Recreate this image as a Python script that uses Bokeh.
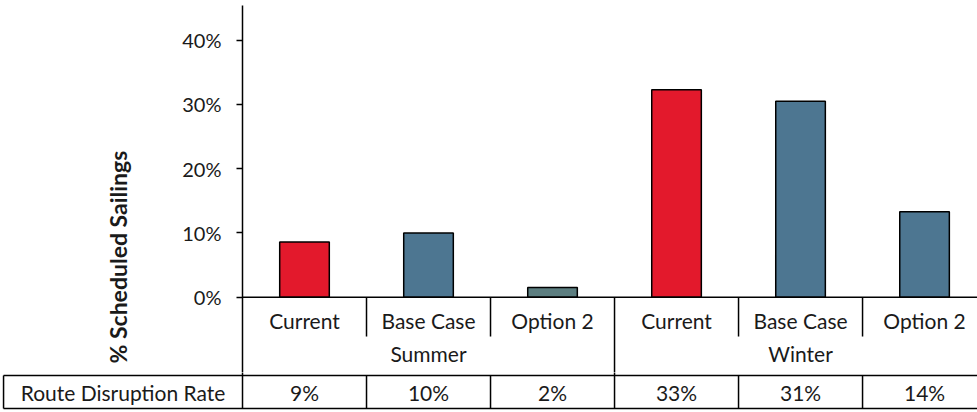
import math
from bokeh.plotting import figure
from bokeh.layouts import column, row
from bokeh.models import Range1d, FixedTicker, NumeralTickFormatter, ColumnDataSource
from bokeh.core.properties import value
from bokeh.embed import file_html
from bokeh.resources import INLINE

# ---- data ----
categories = ["Current", "Base Case", "Option 2", "Current", "Base Case", "Option 2"]
groups = ["Summer", "Winter"]
values = [0.086, 0.100, 0.015, 0.323, 0.305, 0.133]
table_labels = ["9%", "10%", "2%", "33%", "31%", "14%"]
table_title = "Route Disruption Rate"
y_title = "% Scheduled Sailings"
y_ticks = [0, 0.1, 0.2, 0.3, 0.4]

RED = "#e3192c"
BLUE = "#4d7691"
GREY = "#5c7e80"
colors = [RED, BLUE, GREY, RED, BLUE, BLUE]

FONT = "Lato"
FS = "21px"
TXT = "#1a1a1a"
n = len(categories)
xs = [i + 0.5 for i in range(n)]

# layout positions in data units (below zero = category / table area)
Y_TOP = 0.4540      # top of frame
Y_SPLIT = -0.1172   # boundary between chart figure and table figure
Y_BOTTOM = -0.1795  # bottom of table figure
Y_CAT = -0.0355
Y_SEP = -0.0612
Y_GRP = -0.0876
Y_TTOP = -0.1219
Y_TVAL = -0.1483
Y_TBOT = -0.1732
X_LEFT = -1.9516
X_RIGHT = 5.927
X_CELL = -1.927

LEFT_W = 150

# ---- axis title panel ----
t = figure(width=LEFT_W, height=372, output_backend="svg", toolbar_location=None,
           x_range=Range1d(0, LEFT_W), y_range=Range1d(0, 372),
           min_border=0, min_border_left=0, min_border_right=0,
           min_border_top=0, min_border_bottom=0)
t.outline_line_color = None
t.grid.visible = False
t.axis.visible = False
t.text(x=[117], y=[117], text=[y_title], angle=math.pi / 2, text_align="center",
       text_baseline="middle", text_font=value(FONT), text_font_size="23px",
       text_font_style="bold", text_color=TXT)

# ---- main chart ----
p = figure(width=977 - LEFT_W, height=372, output_backend="svg", toolbar_location=None,
           x_range=Range1d(0, X_RIGHT), y_range=Range1d(Y_SPLIT, Y_TOP),
           min_border_left=242 - LEFT_W, min_border_right=0, min_border_top=5,
           min_border_bottom=0)
p.outline_line_color = None
p.grid.visible = False
p.xaxis.visible = False

ya = p.yaxis[0]
ya.ticker = FixedTicker(ticks=y_ticks)
ya.formatter = NumeralTickFormatter(format="0%")
ya.major_tick_in = 0
ya.major_tick_out = 6
ya.minor_tick_line_color = None
ya.axis_line_color = "black"
ya.axis_line_width = 1.5
ya.major_tick_line_color = "black"
ya.major_tick_line_width = 1.5
ya.major_label_text_font = FONT
ya.major_label_text_font_size = "20px"
ya.major_label_text_color = TXT
ya.major_label_standoff = 15

src = ColumnDataSource(dict(x=xs, top=values, color=colors))
p.vbar(x="x", top="top", bottom=0, width=0.4, source=src,
       fill_color="color", line_color="black", line_width=1.5)

sx0, sy0, sx1, sy1 = [0], [0], [n], [0]
for b in range(1, n + 1):
    sx0.append(b); sx1.append(b)
    sy0.append(0); sy1.append(Y_SPLIT - 0.01 if b % 3 == 0 else Y_SEP)
p.segment(sx0, sy0, sx1, sy1, line_color="black", line_width=1.5)

p.text(x=xs, y=[Y_CAT] * n, text=categories, text_align="center", text_baseline="middle",
       text_font=value(FONT), text_font_size=FS, text_color=TXT)
p.text(x=[1.5, 4.5], y=[Y_GRP] * 2, text=groups, text_align="center", text_baseline="middle",
       text_font=value(FONT), text_font_size=FS, text_color=TXT)

# ---- table row ----
b = figure(width=977, height=40, output_backend="svg", toolbar_location=None,
           x_range=Range1d(X_LEFT, X_RIGHT), y_range=Range1d(Y_BOTTOM, Y_SPLIT),
           min_border=0, min_border_left=0, min_border_right=0,
           min_border_top=0, min_border_bottom=0)
b.outline_line_color = None
b.grid.visible = False
b.axis.visible = False

tx0, ty0, tx1, ty1 = [X_CELL, X_CELL, X_CELL], [Y_TTOP, Y_TBOT, Y_TTOP], [n, n, X_CELL], [Y_TTOP, Y_TBOT, Y_TBOT]
for k in range(0, n + 1):
    tx0.append(k); tx1.append(k)
    ty0.append(Y_SPLIT + 0.01 if k % 3 == 0 else Y_TTOP); ty1.append(Y_TBOT)
b.segment(tx0, ty0, tx1, ty1, line_color="black", line_width=1.5)

b.text(x=xs, y=[Y_TVAL] * n, text=table_labels, text_align="center", text_baseline="middle",
       text_font=value(FONT), text_font_size=FS, text_color=TXT)
b.text(x=[(X_CELL + 0) / 2], y=[Y_TVAL], text=[table_title], text_align="center",
       text_baseline="middle", text_font=value(FONT), text_font_size=FS, text_color=TXT)

layout = column(row(t, p, spacing=0), b, spacing=0)
open("out.html", "w").write(file_html(layout, INLINE))
